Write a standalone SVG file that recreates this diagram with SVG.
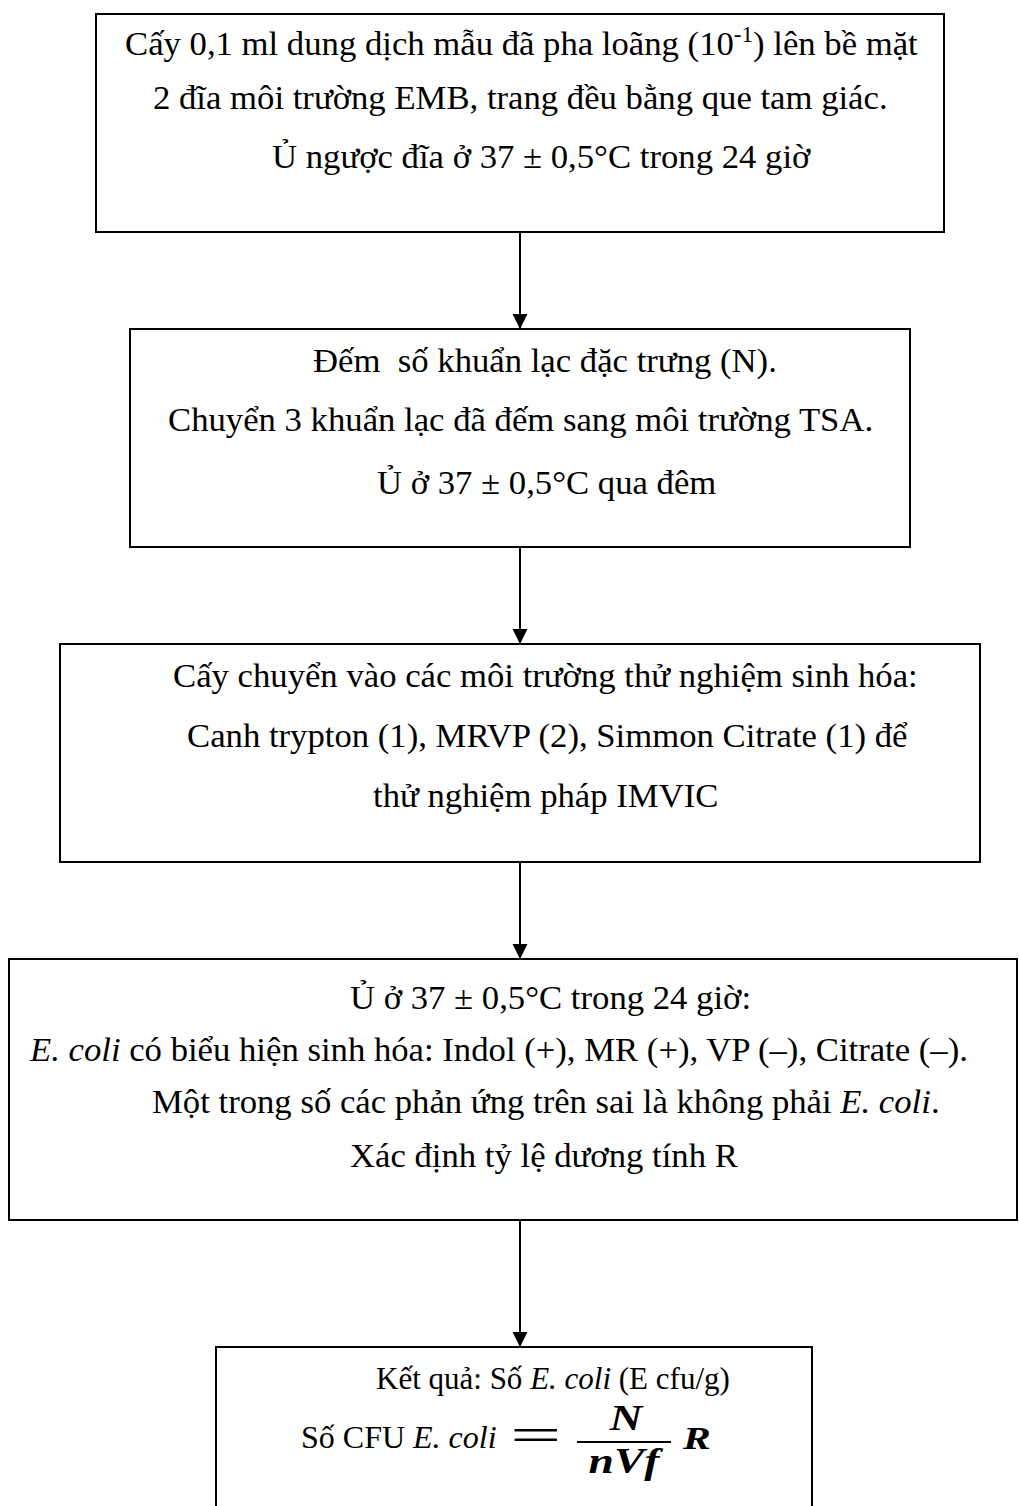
<svg xmlns="http://www.w3.org/2000/svg" width="1019" height="1506" viewBox="0 0 1019 1506">
  <defs>
    <marker id="arrow" markerUnits="userSpaceOnUse" markerWidth="16" markerHeight="16" refX="15" refY="7.5" orient="auto">
      <path d="M0,0 L15,7.5 L0,15 z" fill="#000"/>
    </marker>
    <style>
      .box { fill: #fff; stroke: #000; stroke-width: 2; }
      .t { font-family: "Liberation Serif", "Times New Roman", serif; font-size: 34.7px; fill: #000; }
      .s { font-family: "Liberation Serif", "Times New Roman", serif; font-size: 31px; fill: #000; }
      .m { font-family: "Liberation Serif", "Times New Roman", serif; font-weight: bold; font-style: italic; fill: #000; }
      .i { font-style: italic; }
      .conn { stroke: #000; stroke-width: 2; fill: none; marker-end: url(#arrow); }
    </style>
  </defs>
  <rect width="1019" height="1506" fill="#fff"/>

  <g id="connectors">
    <line class="conn" x1="520" y1="232" x2="520" y2="329"/>
    <line class="conn" x1="520" y1="547" x2="520" y2="644"/>
    <line class="conn" x1="520" y1="862" x2="520" y2="959"/>
    <line class="conn" x1="520" y1="1220" x2="520" y2="1347"/>
  </g>

  <g id="node1">
    <rect class="box" x="96" y="14" width="848" height="218"/>
    <text class="t" x="125" y="55">Cấy 0,1 ml dung dịch mẫu đã pha loãng (10<tspan dy="-13" font-size="23">-1</tspan><tspan dy="13">) lên bề mặt</tspan></text>
    <text class="t" x="153" y="109">2 đĩa môi trường EMB, trang đều bằng que tam giác.</text>
    <text class="t" x="272" y="168">Ủ ngược đĩa ở 37 ± 0,5°C trong 24 giờ</text>
  </g>

  <g id="node2">
    <rect class="box" x="130" y="329" width="780" height="218"/>
    <text class="t" xml:space="preserve" x="313" y="372">Đếm  số khuẩn lạc đặc trưng (N).</text>
    <text class="t" x="168" y="431">Chuyển 3 khuẩn lạc đã đếm sang môi trường TSA.</text>
    <text class="t" x="377" y="494">Ủ ở 37 ± 0,5°C qua đêm</text>
  </g>

  <g id="node3">
    <rect class="box" x="60" y="644" width="920" height="218"/>
    <text class="t" x="173" y="687">Cấy chuyển vào các môi trường thử nghiệm sinh hóa:</text>
    <text class="t" x="187" y="747">Canh trypton (1), MRVP (2), Simmon Citrate (1) để</text>
    <text class="t" x="373" y="807">thử nghiệm pháp IMVIC</text>
  </g>

  <g id="node4">
    <rect class="box" x="9" y="959" width="1008" height="261"/>
    <text class="t" x="350" y="1009">Ủ ở 37 ± 0,5°C trong 24 giờ:</text>
    <text class="t" x="30" y="1061"><tspan class="i">E. coli</tspan> có biểu hiện sinh hóa: Indol (+), MR (+), VP (–), Citrate (–).</text>
    <text class="t" x="152" y="1113">Một trong số các phản ứng trên sai là không phải <tspan class="i">E. coli</tspan>.</text>
    <text class="t" x="350" y="1167">Xác định tỷ lệ dương tính R</text>
  </g>

  <g id="node5">
    <rect class="box" x="216" y="1347" width="596" height="180"/>
    <text class="s" x="376" y="1389">Kết quả: Số <tspan class="i">E. coli</tspan> (E cfu/g)</text>
    <text class="s" x="301" y="1448" style="font-size:32px">Số CFU <tspan class="i">E. coli</tspan></text>
    <text class="s" transform="translate(510,1451) scale(1.9,1)" style="font-size:48px">=</text>
    <text class="m" font-size="35" text-anchor="middle" transform="translate(626,1430) scale(1.3,1)">N</text>
    <line x1="577" y1="1442" x2="671" y2="1442" stroke="#000" stroke-width="2"/>
    <text class="m" font-size="35" text-anchor="middle" transform="translate(624,1473) scale(1.3,1)">nVf</text>
    <text class="m" font-size="32" transform="translate(683,1449) scale(1.3,1)">R</text>
  </g>
</svg>
